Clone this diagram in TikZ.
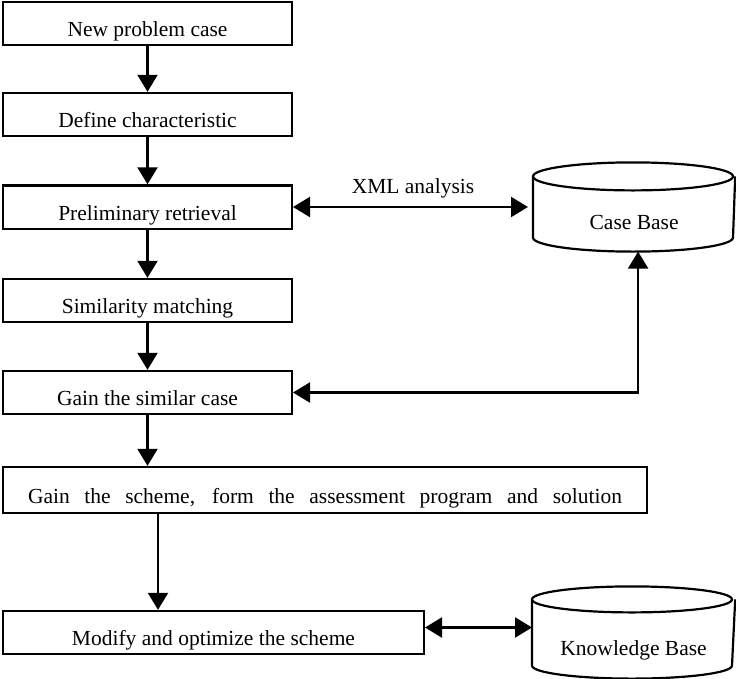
\documentclass[tikz,border=0pt]{standalone}
\usepackage{fontspec}
\setmainfont{Liberation Serif}
\usetikzlibrary{arrows.meta, positioning}

\begin{document}
\begin{tikzpicture}[x=1pt, y=-1pt, line width=2.2pt,
    font=\fontsize{21.5pt}{26pt}\selectfont,
    >={Triangle[length=17pt, width=20pt]},
    proc/.style={rectangle, draw, minimum width=288.8pt, minimum height=43.2pt,
        text height=31pt, text depth=5pt, inner sep=0pt},
    base/.style={rectangle, minimum width=200pt, minimum height=87pt,
        text height=50pt, text depth=5pt, inner sep=0pt}]
    \useasboundingbox (0,0) rectangle (736,678);

    \node (P1) [proc] at (147.5,23.5) {New problem case};
    \node (P2) [below=45.6pt of P1, proc] {Define characteristic};
    \node (P3) [below=47.1pt of P2, proc] {Preliminary retrieval};
    \node (P4) [below=48.1pt of P3, proc] {Similarity matching};
    \node (P5) [below=46.6pt of P4, proc] {Gain the similar case};

    \draw[->] (P1) -- (P2);
    \draw[->] (P2) -- (P3);
    \draw[->] (P3) -- (P4);
    \draw[->] (P4) -- (P5);

    \node (D1) [right=240pt of P3, base] {Case Base};

    \draw[<->, shorten >=5pt] (P3) -- node[above=4pt] {XML analysis} (D1);
    \draw[<->] (P5) -| ([xshift=4pt]D1.south);

    \node (P6) [below=50.6pt of P5.south west, anchor=north west, proc,
        minimum width=643.8pt, minimum height=46.2pt]
        {\makebox[594pt][s]{Gain the scheme, form the assessment program and solution}};
    \node (P7) [below=95.6pt of P6.south west, anchor=north west, proc,
        minimum width=420.8pt] {Modify and optimize the scheme};

    \draw[->] (P5) -- (P5 |- P6.north);
    \draw[->] ([xshift=156pt]P6.south west) -- ([xshift=156pt]P7.north west);

    \node (D2) [right=107pt of P7, base, minimum width=201pt, minimum height=90pt]
        {Knowledge Base};

    \draw[<->] ([yshift=5pt]P7.east) -- ([yshift=5pt]P7.east -| D2.west);

    % database outlines
    \foreach \d/\r in {D1/14pt, D2/13pt} {
        \draw ([yshift=-\r]\d.north west)
            arc[start angle=180, end angle=-180, x radius=100pt, y radius=\r];
        \draw ([yshift=-\r]\d.north west) -- ([yshift=\r]\d.south west)
            arc[start angle=180, end angle=360, x radius=100pt, y radius=\r]
            -- ([yshift=-\r]\d.north east);
    }
\end{tikzpicture}
\end{document}
